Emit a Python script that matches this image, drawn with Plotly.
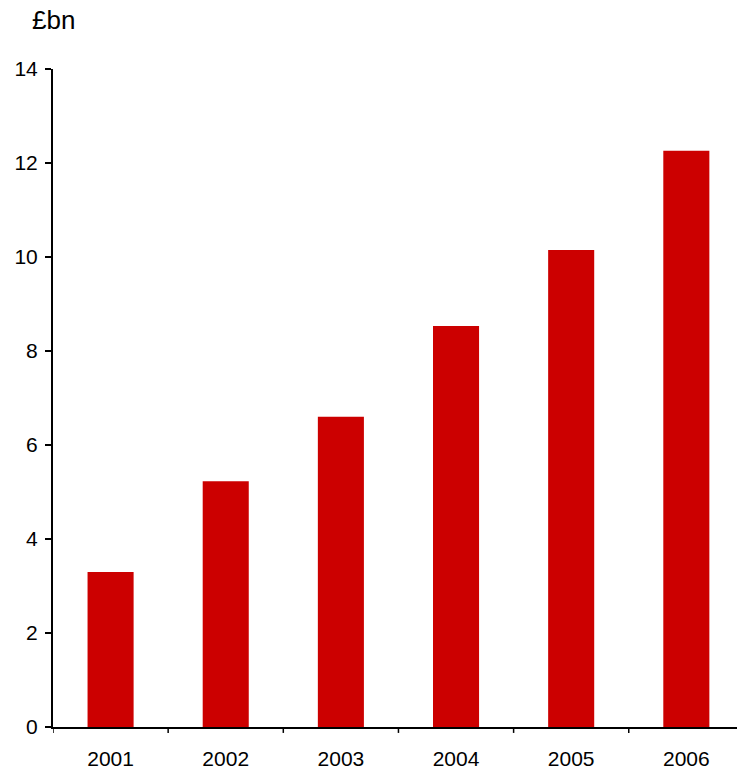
import plotly.graph_objects as go

years = ["2001", "2002", "2003", "2004", "2005", "2006"]
values = [3.30, 5.23, 6.60, 8.53, 10.15, 12.26]
y_ticks = [0, 2, 4, 6, 8, 10, 12, 14]

fig = go.Figure()
fig.add_trace(go.Bar(x=list(range(len(years))), y=values, marker=dict(color="#CC0000", line=dict(width=0)),
                     width=0.4))

font = dict(family="Liberation Sans, Arial, sans-serif", size=21, color="#000000")

fig.update_layout(
    width=740, height=769,
    margin=dict(l=53, r=3, t=69, b=42),
    paper_bgcolor="white", plot_bgcolor="white",
    showlegend=False,
    font=font,
    bargap=0.6,
    xaxis=dict(
        range=[-0.5, 5.44],
        tickmode="array",
        tickvals=list(range(len(years))),
        ticktext=years,
        showgrid=False, zeroline=False,
        showline=True, linecolor="black", linewidth=2,
        ticks="", tickfont=font, ticklabelstandoff=12,
        automargin=False,
    ),
    yaxis=dict(
        range=[0, 14],
        tickmode="array", tickvals=y_ticks,
        showgrid=False, zeroline=False,
        showline=True, linecolor="black", linewidth=2,
        ticks="outside", ticklen=6, tickwidth=1.5, tickcolor="black",
        tickfont=font, ticklabelstandoff=3, automargin=False,
    ),
    annotations=[dict(text="£bn", xref="paper", yref="paper", x=0, y=1.0, xshift=-23, yshift=49,
                      xanchor="left", yanchor="middle", showarrow=False,
                      font=dict(family="Liberation Sans, Arial, sans-serif", size=26, color="#000000"))],
)

# category separator ticks on x axis (below the axis only)
for i in range(len(years)):
    fig.add_shape(type="line", xref="x", yref="paper", x0=i - 0.5, x1=i - 0.5, y0=0, y1=-0.009,
                  line=dict(color="black", width=1.5))

fig.write_html("out.html")
